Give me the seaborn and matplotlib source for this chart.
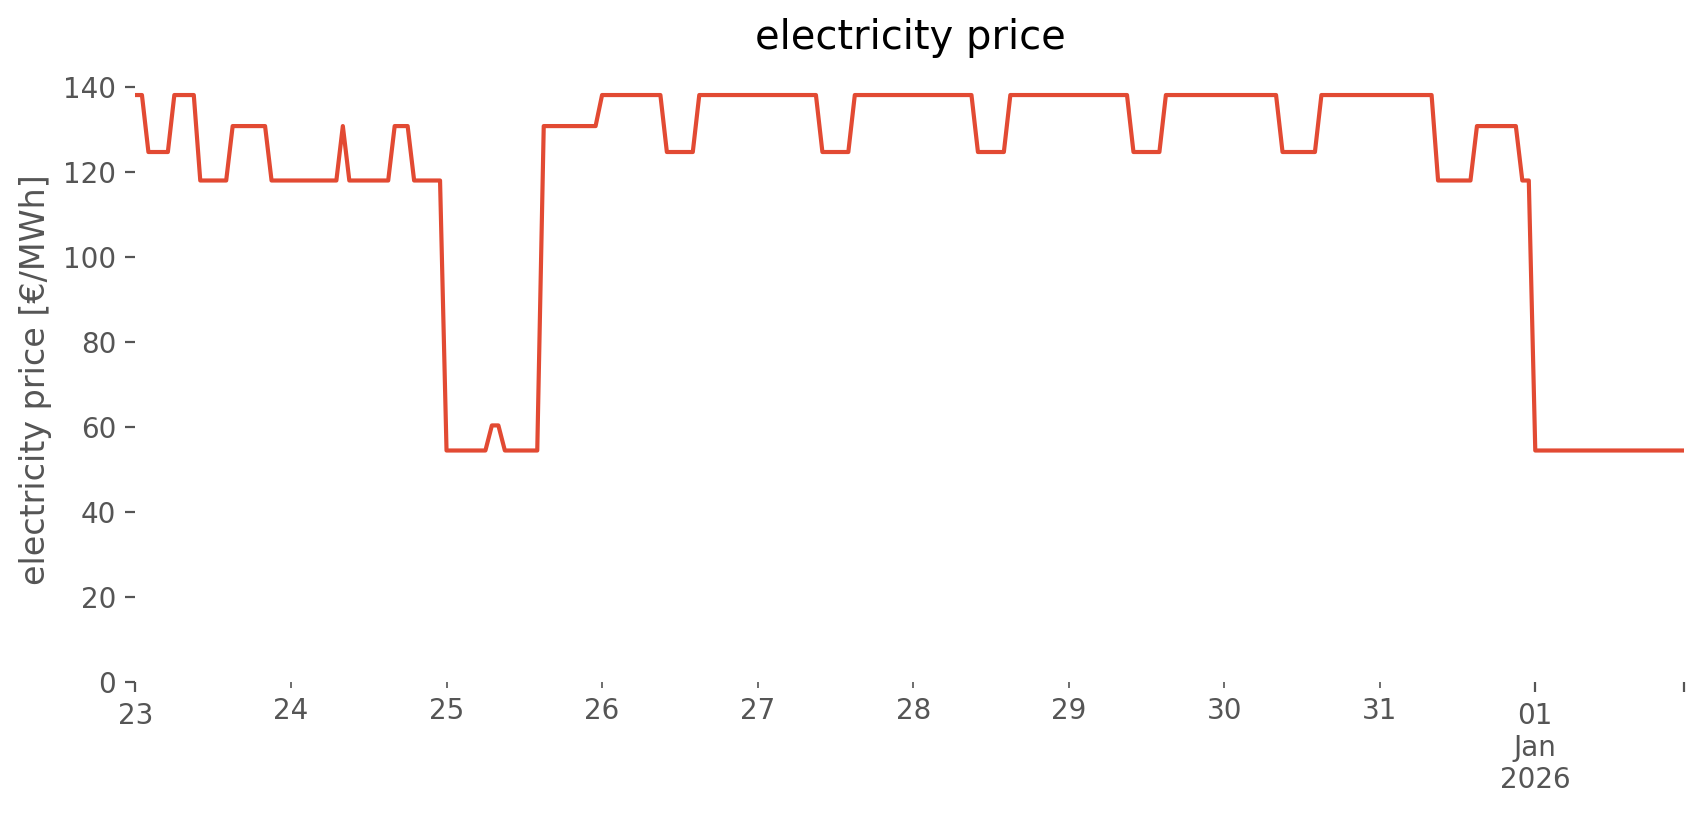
import matplotlib
matplotlib.use("Agg")
import matplotlib.pyplot as plt
import numpy as np
import pandas as pd
import seaborn as sns

# hourly electricity price [€/MWh], one list per day (00:00 ... 23:00)
dec23 = [138.1, 138.1, 124.7, 124.7, 124.7, 124.7, 138.1, 138.1, 138.1, 138.1, 118.0, 118.0,
         118.0, 118.0, 118.0, 130.8, 130.8, 130.8, 130.8, 130.8, 130.8, 118.0, 118.0, 118.0]
dec24 = [118.0, 118.0, 118.0, 118.0, 118.0, 118.0, 118.0, 118.0, 130.8, 118.0, 118.0, 118.0,
         118.0, 118.0, 118.0, 118.0, 130.8, 130.8, 130.8, 118.0, 118.0, 118.0, 118.0, 118.0]
dec25 = [54.5, 54.5, 54.5, 54.5, 54.5, 54.5, 54.5, 60.4, 60.4, 54.5, 54.5, 54.5,
         54.5, 54.5, 54.5, 130.8, 130.8, 130.8, 130.8, 130.8, 130.8, 130.8, 130.8, 130.8]
dec26 = [138.1, 138.1, 138.1, 138.1, 138.1, 138.1, 138.1, 138.1, 138.1, 138.1, 124.7, 124.7,
         124.7, 124.7, 124.7, 138.1, 138.1, 138.1, 138.1, 138.1, 138.1, 138.1, 138.1, 138.1]
dec27 = [138.1, 138.1, 138.1, 138.1, 138.1, 138.1, 138.1, 138.1, 138.1, 138.1, 124.7, 124.7,
         124.7, 124.7, 124.7, 138.1, 138.1, 138.1, 138.1, 138.1, 138.1, 138.1, 138.1, 138.1]
dec28 = [138.1, 138.1, 138.1, 138.1, 138.1, 138.1, 138.1, 138.1, 138.1, 138.1, 124.7, 124.7,
         124.7, 124.7, 124.7, 138.1, 138.1, 138.1, 138.1, 138.1, 138.1, 138.1, 138.1, 138.1]
dec29 = [138.1, 138.1, 138.1, 138.1, 138.1, 138.1, 138.1, 138.1, 138.1, 138.1, 124.7, 124.7,
         124.7, 124.7, 124.7, 138.1, 138.1, 138.1, 138.1, 138.1, 138.1, 138.1, 138.1, 138.1]
dec30 = [138.1, 138.1, 138.1, 138.1, 138.1, 138.1, 138.1, 138.1, 138.1, 124.7, 124.7, 124.7,
         124.7, 124.7, 124.7, 138.1, 138.1, 138.1, 138.1, 138.1, 138.1, 138.1, 138.1, 138.1]
dec31 = [138.1, 138.1, 138.1, 138.1, 138.1, 138.1, 138.1, 138.1, 138.1, 118.0, 118.0, 118.0,
         118.0, 118.0, 118.0, 130.8, 130.8, 130.8, 130.8, 130.8, 130.8, 130.8, 118.0, 118.0]
jan01 = [54.5] * 24

prices = dec23 + dec24 + dec25 + dec26 + dec27 + dec28 + dec29 + dec30 + dec31 + jan01
times = pd.date_range("2025-12-23 00:00", periods=len(prices), freq="h")

minor_days = ["2025-12-24", "2025-12-25", "2025-12-26", "2025-12-27",
              "2025-12-28", "2025-12-29", "2025-12-30", "2025-12-31"]
minor_labels = ["24", "25", "26", "27", "28", "29", "30", "31"]
major_labels = ["23", "01\nJan\n2026", ""]

df = pd.DataFrame({"time": times, "price": prices})

plt.style.use("ggplot")
fig = plt.figure(figsize=(8.53, 4.075), dpi=200)
ax = fig.add_axes([0.0794, 0.1629, 0.9079, 0.7423])

sns.lineplot(data=df, x="time", y="price", ax=ax, color="#E24A33", linewidth=1.5)

ax.set_facecolor("white")
ax.grid(False)
for s in ax.spines.values():
    s.set_visible(False)

ax.set_xlim(times[0], times[-1])
ax.set_ylim(bottom=0)
ax.set_yticks(np.arange(0, 141, 20))

ax.set_xticks([times[0], pd.Timestamp("2026-01-01"), times[-1]])
ax.set_xticklabels(major_labels)
ax.set_xticks(pd.to_datetime(minor_days), minor=True)
ax.set_xticklabels(minor_labels, minor=True)
ax.tick_params(axis="x", which="both", colors="#555555", labelsize=10)
ax.tick_params(axis="y", colors="#555555", labelsize=10)

ax.set_xlabel("")
ax.set_ylabel("electricity price [€/MWh]", color="#555555", fontsize=12)
ax.set_title("electricity price", fontsize=14.4, color="black", pad=10)

fig.savefig("out.png", dpi=200, facecolor="white")
